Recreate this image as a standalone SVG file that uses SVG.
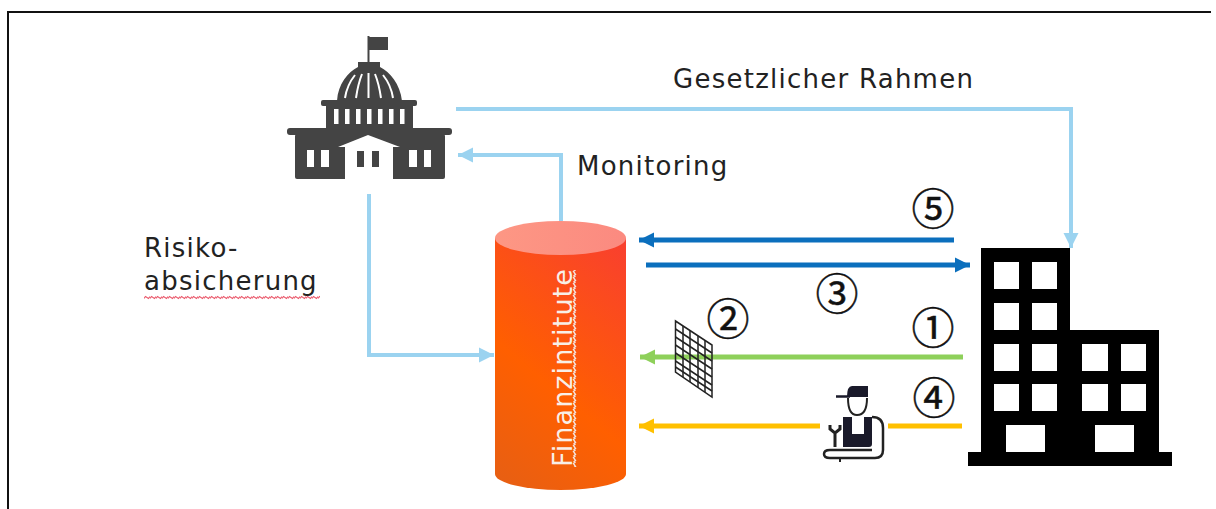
<svg xmlns="http://www.w3.org/2000/svg" width="1216" height="509" viewBox="0 0 1216 509">
<defs>
<linearGradient id="body" gradientUnits="userSpaceOnUse" x1="660" y1="275" x2="460" y2="515"><stop offset="0" stop-color="#f9402e"/><stop offset="0.5" stop-color="#ff5f00"/><stop offset="1" stop-color="#dc5f1c"/></linearGradient>
<linearGradient id="top" x1="0" y1="0.5" x2="1" y2="0.5"><stop offset="0" stop-color="#fd9784"/><stop offset="1" stop-color="#fb8a80"/></linearGradient>
<pattern id="wavyH" patternUnits="userSpaceOnUse" x="144" y="295" width="6" height="5"><path d="M0 3.500L1.500 1.500L4.500 3.500L6 1.500" fill="none" stroke="#ea5a6c" stroke-width="1.100"/></pattern>
<pattern id="wavyV" patternUnits="userSpaceOnUse" x="572" y="270" width="5" height="6"><path d="M3.500 0L1.500 1.500L3.500 4.500L1.500 6" fill="none" stroke="#f4e4de" stroke-width="1.400"/></pattern>
<marker id="ahB" markerUnits="userSpaceOnUse" markerWidth="16" markerHeight="16" refX="15" refY="8" orient="auto"><path d="M0 0.500L15 8L0 15.500z" fill="#9bd3f0"/></marker>
<marker id="ahD" markerUnits="userSpaceOnUse" markerWidth="16" markerHeight="16" refX="15" refY="8" orient="auto"><path d="M0 0.500L15 8L0 15.500z" fill="#0b6fbd"/></marker>
<marker id="ahG" markerUnits="userSpaceOnUse" markerWidth="16" markerHeight="16" refX="15" refY="8" orient="auto"><path d="M0 0.500L15 8L0 15.500z" fill="#8ed05a"/></marker>
<marker id="ahY" markerUnits="userSpaceOnUse" markerWidth="16" markerHeight="16" refX="15" refY="8" orient="auto"><path d="M0 0.500L15 8L0 15.500z" fill="#ffc000"/></marker>
</defs>
<style>
.t{font-family:"DejaVu Sans",Verdana,sans-serif;font-size:26px;letter-spacing:1.250px;fill:#222}
.n{font-family:"Noto Sans CJK JP","DejaVu Sans",sans-serif;font-size:43px;fill:#111;stroke:#111;stroke-width:0.500;text-anchor:middle}
.l{fill:none;stroke-width:5}
.b{stroke:#9bd3f0;stroke-width:4;marker-end:url(#ahB)}
.d{stroke:#0b6fbd;marker-end:url(#ahD)}
.g{stroke:#8ed05a;marker-end:url(#ahG)}
.y{stroke:#ffc000}
</style>
<rect width="1216" height="509" fill="#fff"/>
<path d="M8 509V12H1211" fill="none" stroke="#111" stroke-width="2"/>
<g id="connectors">
<path class="l b" d="M456 109H1071V248"/>
<path class="l b" d="M561 221V155H458"/>
<path class="l b" d="M369 194V355H494"/>
<path class="l d" d="M954 240H639"/>
<path class="l d" d="M646 265H970"/>
<path class="l g" d="M963 357H640"/>
<path class="l y" d="M820 426H639" style="marker-end:url(#ahY)"/>
<path class="l y" d="M888 426H962"/>
</g>
<g id="regierung" fill="#444">
<rect x="367.500" y="36" width="2" height="28"/><rect x="369" y="37" width="19" height="13"/>
<path d="M337 101C338 84 348 72 358 67V62H380V67C390 72 400 84 402 101z"/>
<path d="M345 98Q347 85 355 75M356 98Q358 84 362 74M368.500 98V73M381 98Q379 84 375 74M393 98Q391 85 383 75" stroke="#fff" stroke-width="2" fill="none"/>
<rect x="321" y="100" width="96" height="6" rx="2"/><rect x="326" y="105" width="87" height="25"/>
<rect x="287" y="128" width="165" height="7" rx="3"/><rect x="295" y="134" width="150" height="45" rx="2"/>
<path d="M338 147L368 135L400 147H393V180H345V147z" fill="#fff"/>
<g fill="#fff"><rect x="334" y="109" width="4.500" height="15"/><rect x="345" y="109" width="4.500" height="15"/><rect x="356" y="109" width="4.500" height="15"/><rect x="367" y="109" width="4.500" height="15"/><rect x="378" y="109" width="4.500" height="15"/><rect x="389" y="109" width="4.500" height="15"/><rect x="400" y="109" width="4.500" height="15"/>
<rect x="307" y="150" width="7" height="17"/><rect x="321" y="150" width="8" height="17"/><rect x="409" y="150" width="8" height="17"/><rect x="424" y="150" width="7" height="17"/></g>
<rect x="357" y="151" width="7" height="16"/><rect x="372" y="151" width="7" height="16"/>
</g>
<g id="finanzinstitute">
<path d="M495 238V474A65.500 16 0 0 0 626 474V238z" fill="url(#body)"/>
<ellipse cx="560.500" cy="238" rx="65.500" ry="17" fill="url(#top)"/>
<text transform="translate(572 467) rotate(-90)" font-family="'DejaVu Sans',sans-serif" font-size="27" letter-spacing="1.100" fill="#f8efe8">Finanzintitute</text>
<rect x="572" y="270" width="5" height="197" fill="url(#wavyV)"/>
</g>
<g id="unternehmen" fill="#000">
<path fill-rule="evenodd" d="M981 248H1070V330H1159V452H1172V466H968V452H981z
M994 262V289H1019V262zM1032 262V289H1057V262z
M994 303V330H1019V303zM1032 303V330H1057V303z
M994 344V371H1019V344zM1032 344V371H1057V344zM1082 344V371H1108V344zM1121 344V371H1146V344z
M994 384V411H1019V384zM1032 384V411H1057V384zM1082 384V411H1108V384zM1121 384V411H1146V384z
M1006 425V452H1045V425zM1095 425V452H1134V425z"/>
</g>
<g id="gitter" fill="none" stroke="#222" stroke-width="1.500">
<path d="M675.500 321L712 345V397L675.500 372z"/>
<path d="M683 326V377M690 331V382M698 336V387.500M705 340.500V392"/>
<path d="M675.500 329L712 353M675.500 337L712 361M675.500 345L712 369M675.500 353L712 377M675.500 361L712 385M675.500 367L712 391"/>
</g>
<g id="techniker">
<path d="M847 397Q847 386 852 386H868V397z" fill="#1a1a2a"/><path d="M836 396.500H850" stroke="#1a1a2a" stroke-width="2.500"/>
<path d="M848 398Q848 415 857 415Q867 415 867 398" fill="none" stroke="#222" stroke-width="2"/>
<path d="M843 417H852V434H864V417H872V444Q872 447 869 447H843z" fill="#1a1a2a"/>
<path d="M872 417Q883 417 883 428V450Q883 458 875 458H830Q824 458 824 454Q824 450 830 450H872" fill="none" stroke="#222" stroke-width="2.500"/>
<path d="M835 447V433L830 429V425M835 433L840 429V425" fill="none" stroke="#222" stroke-width="3"/>
<path d="M840 458V462" stroke="#222" stroke-width="2"/>
</g>
<g id="texte">
<text class="t" x="673" y="88">Gesetzlicher Rahmen</text>
<text class="t" x="577" y="175">Monitoring</text>
<text class="t" x="144" y="257">Risiko-</text>
<text class="t" x="144" y="290">absicherung</text>
<rect x="144" y="295" width="176" height="5" fill="url(#wavyH)"/>
</g>
<g id="nummern">
<text class="n" x="933" y="225">⑤</text>
<text class="n" x="837" y="310">③</text>
<text class="n" x="728" y="335">②</text>
<text class="n" x="933" y="344">①</text>
<text class="n" x="934" y="414">④</text>
</g>
</svg>
